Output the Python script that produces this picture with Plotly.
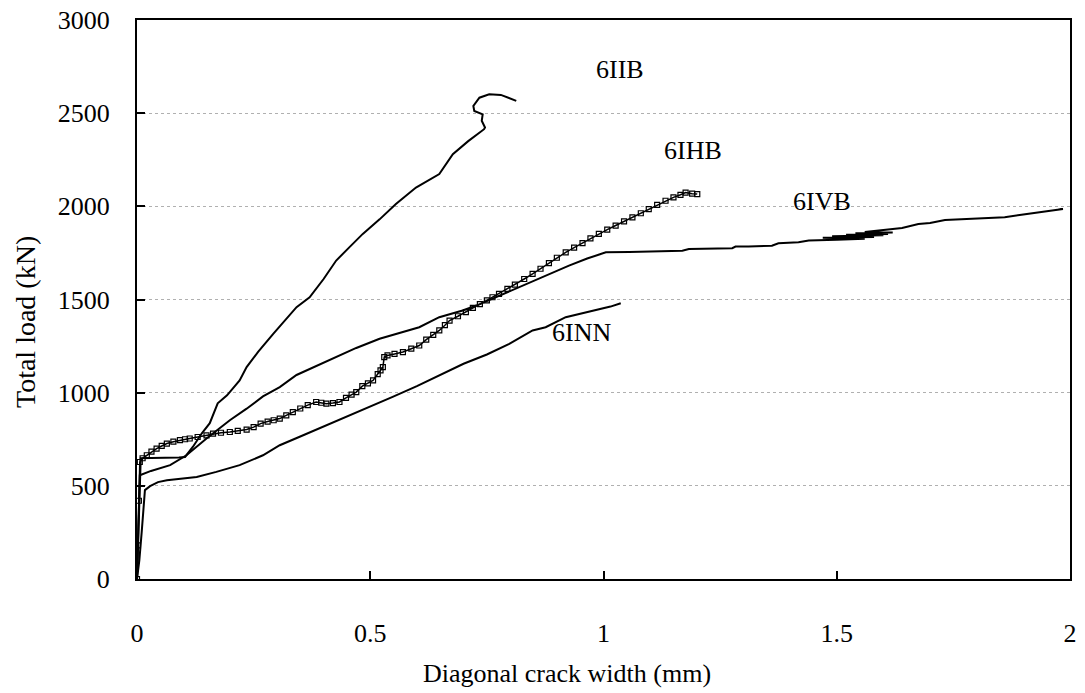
import plotly.graph_objects as go

# ---------------- data ----------------
iib_x = [0, 0.002, 0.004, 0.006, 0.008, 0.03, 0.06, 0.09, 0.103, 0.12, 0.139, 0.156, 0.173,
         0.193, 0.22, 0.235, 0.26, 0.292, 0.342, 0.370, 0.40, 0.427, 0.455, 0.484, 0.52,
         0.555, 0.598, 0.648, 0.677, 0.71, 0.744, 0.746, 0.739, 0.741, 0.723, 0.721, 0.734,
         0.755, 0.780, 0.813]
iib_y = [0, 150, 350, 520, 648, 650, 650, 652, 655, 710, 782, 836, 943,
         986, 1066, 1137, 1220, 1316, 1459, 1512, 1610, 1709, 1780, 1852, 1930,
         2012, 2101, 2173, 2280, 2350, 2414, 2423, 2459, 2494, 2512, 2539, 2583,
         2601, 2598, 2566]

ivb_x = [0, 0.002, 0.004, 0.006, 0.03, 0.071, 0.106, 0.149, 0.199, 0.235, 0.27, 0.306,
         0.342, 0.385, 0.427, 0.47, 0.52, 0.56, 0.605, 0.648, 0.698, 0.735, 0.769, 0.805,
         0.841, 0.88, 0.926, 0.965, 1.005, 1.055, 1.097, 1.169, 1.183, 1.276, 1.283, 1.311,
         1.361, 1.375, 1.418, 1.44, 1.50, 1.56, 1.47, 1.58, 1.49, 1.60, 1.52, 1.61, 1.54,
         1.62, 1.56, 1.64, 1.675, 1.70, 1.732, 1.789, 1.86, 1.896, 1.953, 1.985, 1.975]
ivb_y = [0, 200, 420, 557, 580, 611, 664, 754, 852, 914, 980, 1030,
         1095, 1145, 1191, 1240, 1289, 1320, 1351, 1405, 1441, 1475, 1512, 1550,
         1593, 1635, 1682, 1720, 1753, 1755, 1759, 1762, 1771, 1775, 1784, 1784,
         1789, 1802, 1807, 1816, 1820, 1826, 1831, 1836, 1840, 1845, 1848, 1852, 1855,
         1860, 1862, 1884, 1905, 1910, 1927, 1932, 1941, 1955, 1977, 1986, 1983]

inn_x = [0, 0.005, 0.01, 0.0135, 0.017, 0.028, 0.045, 0.064, 0.085, 0.128, 0.17, 0.22,
         0.27, 0.306, 0.35, 0.406, 0.45, 0.50, 0.548, 0.60, 0.655, 0.70, 0.75, 0.798,
         0.848, 0.876, 0.919, 0.96, 0.99, 1.015, 1.037]
inn_y = [0, 100, 250, 387, 477, 498, 520, 530, 536, 548, 575, 611,
         664, 718, 765, 825, 870, 922, 977, 1035, 1102, 1155, 1205, 1262,
         1334, 1351, 1405, 1430, 1450, 1462, 1480]

ihb_x = [0, 0.002, 0.004, 0.006, 0.012, 0.021, 0.031, 0.042, 0.053, 0.064, 0.078, 0.092,
         0.103, 0.113, 0.13, 0.149, 0.163, 0.18, 0.199, 0.216, 0.235, 0.25, 0.265, 0.28,
         0.293, 0.306, 0.32, 0.334, 0.35, 0.366, 0.384, 0.395, 0.406, 0.42, 0.434, 0.448,
         0.46, 0.47, 0.483, 0.495, 0.506, 0.516, 0.522, 0.527, 0.530, 0.537, 0.552, 0.570,
         0.588, 0.605, 0.62, 0.635, 0.648, 0.66, 0.670, 0.688, 0.705, 0.72, 0.735, 0.75,
         0.762, 0.776, 0.794, 0.81, 0.83, 0.848, 0.865, 0.883, 0.90, 0.919, 0.937, 0.955,
         0.972, 0.990, 1.008, 1.026, 1.044, 1.062, 1.08, 1.097, 1.115, 1.133, 1.15, 1.165,
         1.176, 1.19, 1.201]
ihb_y = [0, 180, 420, 628, 648, 664, 684, 700, 714, 727, 737, 745,
         750, 754, 762, 771, 780, 785, 789, 795, 802, 815, 834, 845,
         852, 861, 878, 896, 915, 933, 950, 946, 941, 944, 950, 972,
         990, 1003, 1035, 1050, 1066, 1100, 1120, 1137, 1191, 1200, 1208, 1218,
         1236, 1253, 1285, 1310, 1334, 1362, 1387, 1410, 1432, 1455, 1475, 1495,
         1512, 1530, 1557, 1580, 1610, 1637, 1665, 1695, 1724, 1753, 1778, 1803,
         1828, 1852, 1875, 1897, 1919, 1941, 1963, 1985, 2008, 2030, 2048, 2062,
         2074, 2068, 2066]

labels = ["6IIB", "6IHB", "6IVB", "6INN"]
label_x = [1.035, 1.192, 1.468, 0.952]
label_y = [2737, 2298, 2025, 1322]

x_ticks = [0, 0.5, 1, 1.5, 2]
x_ticktext = ["0", "0.5", "1", "1.5", "2"]
y_ticks = [0, 500, 1000, 1500, 2000, 2500, 3000]

# ---------------- figure ----------------
FONT = "Liberation Serif, Times New Roman, serif"
fig = go.Figure()

line_style = dict(color="black", width=2)
fig.add_trace(go.Scatter(x=iib_x, y=iib_y, mode="lines", line=line_style, name="6IIB"))
fig.add_trace(go.Scatter(x=ivb_x, y=ivb_y, mode="lines", line=line_style, name="6IVB"))
fig.add_trace(go.Scatter(x=inn_x, y=inn_y, mode="lines", line=line_style, name="6INN"))
fig.add_trace(go.Scatter(x=ihb_x, y=ihb_y, mode="lines+markers",
                         line=dict(color="black", width=1.5),
                         marker=dict(symbol="square-open", size=5, color="black",
                                     line=dict(width=1.2, color="black")),
                         name="6IHB"))

for t, lx, ly in zip(labels, label_x, label_y):
    fig.add_annotation(x=lx, y=ly, xref="x", yref="y", text=t, showarrow=False,
                       font=dict(family=FONT, size=26, color="black"))

fig.add_annotation(x=(567 - 137) / 933, y=-(673 - 579) / 559, xref="paper", yref="paper",
                   text="Diagonal crack width (mm)", showarrow=False,
                   xanchor="center", yanchor="middle",
                   font=dict(family=FONT, size=26, color="black"))
fig.add_annotation(x=(25 - 137) / 933, y=(579 - 322) / 559, xref="paper", yref="paper",
                   text="Total load (kN)", showarrow=False, textangle=-90,
                   xanchor="center", yanchor="middle",
                   font=dict(family=FONT, size=28, color="black"))

fig.update_layout(
    width=1085, height=693,
    margin=dict(l=137, r=15, t=20, b=114, autoexpand=False),
    paper_bgcolor="white", plot_bgcolor="white",
    showlegend=False,
    font=dict(family=FONT, size=26, color="black"),
)
fig.update_xaxes(
    range=[0, 2], tickvals=x_ticks, ticktext=x_ticktext,
    showgrid=False, zeroline=False, automargin=False,
    showline=True, linecolor="black", linewidth=2, mirror=True,
    ticks="inside", ticklen=8, tickwidth=1.5, tickcolor="black",
    ticklabelstandoff=30,
    tickfont=dict(family=FONT, size=26, color="black"),
)
fig.update_yaxes(
    range=[0, 3000], tickvals=y_ticks,
    showgrid=True, gridcolor="#B0B0B0", gridwidth=1, griddash="dot",
    zeroline=False, automargin=False,
    showline=True, linecolor="black", linewidth=2, mirror=True,
    ticks="inside", ticklen=8, tickwidth=1.5, tickcolor="black",
    ticklabelstandoff=20,
    tickfont=dict(family=FONT, size=26, color="black"),
)

fig.write_html("out.html")
